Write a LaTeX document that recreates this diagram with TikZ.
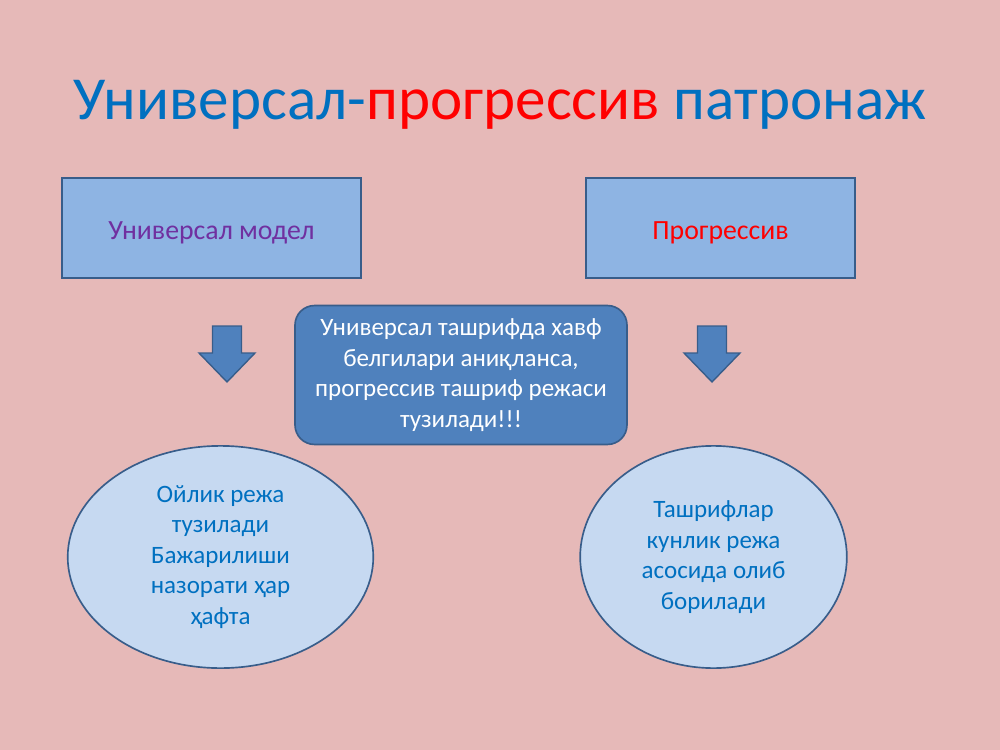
\documentclass[tikz,border=0pt]{standalone}
\usepackage{fontspec}
\setmainfont{Carlito}
\usepackage{tikz}
\usetikzlibrary{shapes.geometric}

\definecolor{slidepink}{RGB}{230,185,184}
\definecolor{boxblue}{RGB}{142,180,227}
\definecolor{edgeblue}{RGB}{56,93,138}
\definecolor{midblue}{RGB}{79,129,189}
\definecolor{paleblue}{RGB}{198,217,241}
\definecolor{titleblue}{RGB}{0,112,192}
\definecolor{modelpurple}{RGB}{112,48,160}

\begin{document}
\begin{tikzpicture}[
  x=0.72pt, y=-0.72pt,
  font=\fontsize{18}{22}\selectfont,
  headbox/.style={draw=edgeblue, line width=1.2pt, fill=boxblue, minimum height=72pt, align=center,
    font=\fontsize{20}{24}\selectfont, text height=20pt, text depth=4pt},
  notebox/.style={draw=edgeblue, line width=1.2pt, fill=midblue, rounded corners=14pt, text=white,
    minimum width=239pt, minimum height=100pt, align=center},
  plan/.style={ellipse, draw=edgeblue, line width=1.2pt, fill=paleblue, text=titleblue,
    minimum height=160pt, align=center, inner sep=0pt},
  blockarrow/.style={draw=edgeblue, line width=1pt, fill=midblue, line join=miter}
]

\fill[slidepink] (0,0) rectangle (1000,750);

\node[font=\fontsize{44}{52}\selectfont] (title) at (500,105) {%
  \textcolor{titleblue}{Универсал-}\textcolor{red}{прогрессив}\ \textcolor{titleblue}{патронаж}};

\node[headbox, minimum width=215pt, text=modelpurple] (univ) at (211.5,228) {Универсал модел};
\node[headbox, minimum width=194pt, text=red] (prog) at (720.5,228) {Прогрессив};

\node[notebox] (note) at (461,375) {%
  Универсал ташрифда хавф\\
  белгилари аниқланса,\\
  прогрессив ташриф режаси\\
  тузилади!!!};

% block arrows under the two boxes
\foreach \ax in {227,712}
  \draw[blockarrow] (\ax-14.5,326) -- (\ax+14.5,326) -- (\ax+14.5,353) -- (\ax+28,353)
    -- (\ax,382) -- (\ax-28,353) -- (\ax-14.5,353) -- cycle;

\node[plan, minimum width=220pt] (monthly) at (220.5,557) {%
  Ойлик режа\\
  тузилади\\
  Бажарилиши\\
  назорати ҳар\\
  ҳафта};
\node[plan, minimum width=192pt] (daily) at (713.5,557) {%
  Ташрифлар\\
  кунлик режа\\
  асосида олиб\\
  борилади};

\end{tikzpicture}
\end{document}
